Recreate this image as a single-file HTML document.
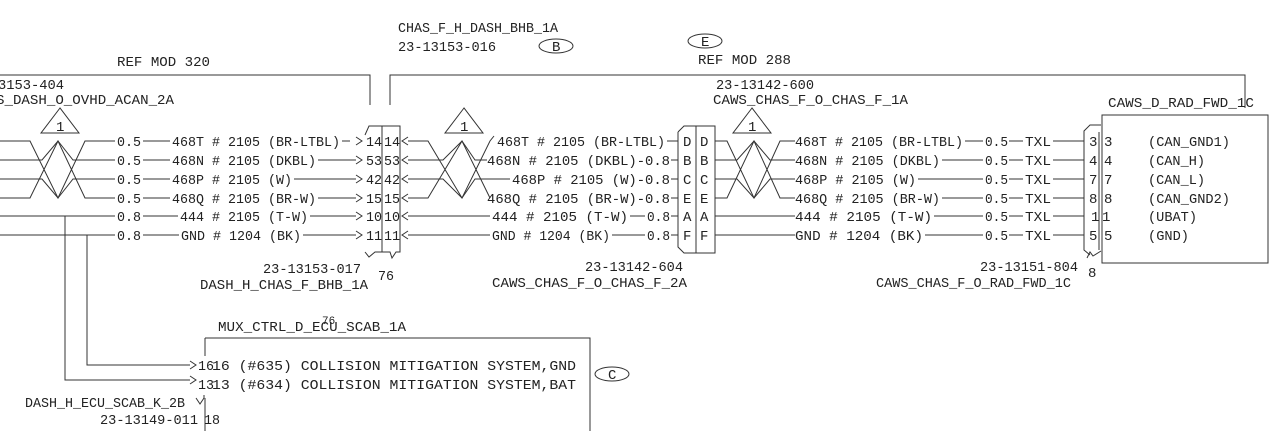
<!DOCTYPE html>
<html><head><meta charset="utf-8"><style>
html,body{margin:0;padding:0;background:#fff;width:1280px;height:431px;overflow:hidden}
svg text{font-family:"Liberation Mono",monospace;font-size:14px;fill:#222;stroke:none}
</style></head><body>
<svg width="1280" height="431" viewBox="0 0 1280 431" xmlns="http://www.w3.org/2000/svg" stroke="#333" stroke-width="1" fill="none">
<!-- top labels -->
<text x="398" y="32" textLength="160" lengthAdjust="spacingAndGlyphs">CHAS_F_H_DASH_BHB_1A</text>
<text x="398" y="51" textLength="98" lengthAdjust="spacingAndGlyphs">23-13153-016</text>
<ellipse cx="556" cy="46" rx="17" ry="7"/><text x="552" y="51">B</text>
<ellipse cx="705" cy="41" rx="17" ry="7"/><text x="701" y="46">E</text>
<text x="117" y="66" textLength="93" lengthAdjust="spacingAndGlyphs">REF MOD 320</text>
<text x="698" y="64" textLength="93" lengthAdjust="spacingAndGlyphs">REF MOD 288</text>
<polyline points="0,75 370,75 370,105"/>
<polyline points="390,105 390,75 1245,75 1245,108"/>
<text x="-2" y="89" textLength="66" lengthAdjust="spacingAndGlyphs">3153-404</text>
<text x="-4" y="104" textLength="178" lengthAdjust="spacingAndGlyphs">S_DASH_O_OVHD_ACAN_2A</text>
<text x="716" y="89" textLength="98" lengthAdjust="spacingAndGlyphs">23-13142-600</text>
<text x="713" y="104" textLength="195" lengthAdjust="spacingAndGlyphs">CAWS_CHAS_F_O_CHAS_F_1A</text>
<text x="1108" y="107" textLength="146" lengthAdjust="spacingAndGlyphs">CAWS_D_RAD_FWD_1C</text>
<!-- triangles -->
<polygon points="60,108 41,133 79,133"/><text x="56" y="131">1</text>
<polygon points="464,108 445,133 483,133"/><text x="460" y="131">1</text>
<polygon points="752,108 733,133 771,133"/><text x="748" y="131">1</text>
<!-- left twisted pairs -->
<polyline points="0,141 30,141 58,198 85,141 115,141"/>
<polyline points="0,160 42,160 58,141 73,160 115,160"/>
<polyline points="0,179 42,179 58,198 73,179 115,179"/>
<polyline points="0,198 30,198 58,141 85,198 115,198"/>
<line x1="0" y1="216" x2="115" y2="216"/><line x1="0" y1="235" x2="115" y2="235"/>
<!-- left rows -->
<g>
<text x="117" y="146" textLength="24" lengthAdjust="spacingAndGlyphs">0.5</text>
<text x="117" y="165" textLength="24" lengthAdjust="spacingAndGlyphs">0.5</text>
<text x="117" y="184" textLength="24" lengthAdjust="spacingAndGlyphs">0.5</text>
<text x="117" y="203" textLength="24" lengthAdjust="spacingAndGlyphs">0.5</text>
<text x="117" y="221" textLength="24" lengthAdjust="spacingAndGlyphs">0.8</text>
<text x="117" y="240" textLength="24" lengthAdjust="spacingAndGlyphs">0.8</text>
<line x1="143" y1="141" x2="170" y2="141"/><line x1="143" y1="160" x2="170" y2="160"/>
<line x1="143" y1="179" x2="170" y2="179"/><line x1="143" y1="198" x2="170" y2="198"/>
<line x1="143" y1="216" x2="178" y2="216"/><line x1="143" y1="235" x2="179" y2="235"/>
<text x="172" y="146" textLength="168" lengthAdjust="spacingAndGlyphs">468T # 2105 (BR-LTBL)</text>
<text x="172" y="165" textLength="144" lengthAdjust="spacingAndGlyphs">468N # 2105 (DKBL)</text>
<text x="172" y="184" textLength="120" lengthAdjust="spacingAndGlyphs">468P # 2105 (W)</text>
<text x="172" y="203" textLength="144" lengthAdjust="spacingAndGlyphs">468Q # 2105 (BR-W)</text>
<text x="180" y="221" textLength="128" lengthAdjust="spacingAndGlyphs">444 # 2105 (T-W)</text>
<text x="181" y="240" textLength="120" lengthAdjust="spacingAndGlyphs">GND # 1204 (BK)</text>
<line x1="342" y1="141" x2="350" y2="141"/>
<line x1="318" y1="160" x2="356" y2="160"/><line x1="294" y1="179" x2="356" y2="179"/>
<line x1="318" y1="198" x2="356" y2="198"/><line x1="310" y1="216" x2="356" y2="216"/>
<line x1="303" y1="235" x2="356" y2="235"/>
</g>
<g>
<polyline points="356,137 362,141 356,145"/><polyline points="356,156 362,160 356,164"/>
<polyline points="356,175 362,179 356,183"/><polyline points="356,194 362,198 356,202"/>
<polyline points="356,212 362,216 356,220"/><polyline points="356,231 362,235 356,239"/>
<polyline points="408,137 402,141 408,145"/><polyline points="408,156 402,160 408,164"/>
<polyline points="408,175 402,179 408,183"/><polyline points="408,194 402,198 408,202"/>
<polyline points="408,212 402,216 408,220"/><polyline points="408,231 402,235 408,239"/>
</g>
<text x="366" y="146" textLength="16" lengthAdjust="spacingAndGlyphs">14</text><text x="384" y="146" textLength="16" lengthAdjust="spacingAndGlyphs">14</text>
<text x="366" y="165" textLength="16" lengthAdjust="spacingAndGlyphs">53</text><text x="384" y="165" textLength="16" lengthAdjust="spacingAndGlyphs">53</text>
<text x="366" y="184" textLength="16" lengthAdjust="spacingAndGlyphs">42</text><text x="384" y="184" textLength="16" lengthAdjust="spacingAndGlyphs">42</text>
<text x="366" y="203" textLength="16" lengthAdjust="spacingAndGlyphs">15</text><text x="384" y="203" textLength="16" lengthAdjust="spacingAndGlyphs">15</text>
<text x="366" y="221" textLength="16" lengthAdjust="spacingAndGlyphs">10</text><text x="384" y="221" textLength="16" lengthAdjust="spacingAndGlyphs">10</text>
<text x="366" y="240" textLength="16" lengthAdjust="spacingAndGlyphs">11</text><text x="384" y="240" textLength="16" lengthAdjust="spacingAndGlyphs">11</text>
<polyline points="365,135 369,126 400,126 400,252 396,252 392,258 390,252 382,252"/>
<line x1="382" y1="126" x2="382" y2="252"/>
<polyline points="365,252 369,257 375,252 382,252"/>
<text x="263" y="273" textLength="98" lengthAdjust="spacingAndGlyphs">23-13153-017</text>
<text x="378" y="280" textLength="16" lengthAdjust="spacingAndGlyphs">76</text>
<text x="200" y="289" textLength="168" lengthAdjust="spacingAndGlyphs">DASH_H_CHAS_F_BHB_1A</text>
<!-- middle twist -->
<polyline points="408,141 428,141 462,198 490,141 494,136"/>
<polyline points="408,160 443,160 462,141 475,160 487,160"/>
<polyline points="408,179 443,179 462,198 475,179 510,179"/>
<polyline points="408,198 428,198 462,141 490,198"/>
<line x1="408" y1="216" x2="490" y2="216"/><line x1="408" y1="235" x2="490" y2="235"/>
<text x="497" y="146" textLength="168" lengthAdjust="spacingAndGlyphs">468T # 2105 (BR-LTBL)</text>
<text x="487" y="165" textLength="183" lengthAdjust="spacingAndGlyphs">468N # 2105 (DKBL)-0.8</text>
<text x="512" y="184" textLength="158" lengthAdjust="spacingAndGlyphs">468P # 2105 (W)-0.8</text>
<text x="487" y="203" textLength="183" lengthAdjust="spacingAndGlyphs">468Q # 2105 (BR-W)-0.8</text>
<text x="492" y="221" textLength="136" lengthAdjust="spacingAndGlyphs">444 # 2105 (T-W)</text>
<text x="492" y="240" textLength="118" lengthAdjust="spacingAndGlyphs">GND # 1204 (BK)</text>
<line x1="630" y1="216" x2="645" y2="216"/><line x1="612" y1="235" x2="645" y2="235"/>
<text x="647" y="221" textLength="23" lengthAdjust="spacingAndGlyphs">0.8</text>
<text x="647" y="240" textLength="23" lengthAdjust="spacingAndGlyphs">0.8</text>
<g>
<line x1="667" y1="141" x2="678" y2="141"/><line x1="671" y1="160" x2="678" y2="160"/>
<line x1="671" y1="179" x2="678" y2="179"/><line x1="671" y1="198" x2="678" y2="198"/>
<line x1="671" y1="216" x2="678" y2="216"/><line x1="671" y1="235" x2="678" y2="235"/>
</g>
<g>
<text x="683" y="146">D</text><text x="700" y="146">D</text>
<text x="683" y="165">B</text><text x="700" y="165">B</text>
<text x="683" y="184">C</text><text x="700" y="184">C</text>
<text x="683" y="203">E</text><text x="700" y="203">E</text>
<text x="683" y="221">A</text><text x="700" y="221">A</text>
<text x="683" y="240">F</text><text x="700" y="240">F</text>
</g>
<polyline points="678,132 684,126 715,126 715,253 684,253 678,247 678,132"/>
<line x1="696" y1="126" x2="696" y2="253"/>
<text x="585" y="271" textLength="98" lengthAdjust="spacingAndGlyphs">23-13142-604</text>
<text x="492" y="287" textLength="195" lengthAdjust="spacingAndGlyphs">CAWS_CHAS_F_O_CHAS_F_2A</text>
<!-- right twist -->
<polyline points="715,141 727,141 754,198 780,141 795,141"/>
<polyline points="715,160 737,160 754,141 770,160 795,160"/>
<polyline points="715,179 737,179 754,198 770,179 795,179"/>
<polyline points="715,198 727,198 754,141 780,198 795,198"/>
<line x1="715" y1="216" x2="795" y2="216"/><line x1="715" y1="235" x2="795" y2="235"/>
<text x="795" y="146" textLength="168" lengthAdjust="spacingAndGlyphs">468T # 2105 (BR-LTBL)</text>
<text x="795" y="165" textLength="145" lengthAdjust="spacingAndGlyphs">468N # 2105 (DKBL)</text>
<text x="795" y="184" textLength="121" lengthAdjust="spacingAndGlyphs">468P # 2105 (W)</text>
<text x="795" y="203" textLength="145" lengthAdjust="spacingAndGlyphs">468Q # 2105 (BR-W)</text>
<text x="795" y="221" textLength="137" lengthAdjust="spacingAndGlyphs">444 # 2105 (T-W)</text>
<text x="795" y="240" textLength="128" lengthAdjust="spacingAndGlyphs">GND # 1204 (BK)</text>
<g>
<line x1="965" y1="141" x2="983" y2="141"/><line x1="942" y1="160" x2="983" y2="160"/>
<line x1="918" y1="179" x2="983" y2="179"/><line x1="942" y1="198" x2="983" y2="198"/>
<line x1="934" y1="216" x2="983" y2="216"/><line x1="925" y1="235" x2="983" y2="235"/>
<line x1="1009" y1="141" x2="1023" y2="141"/><line x1="1009" y1="160" x2="1023" y2="160"/>
<line x1="1009" y1="179" x2="1023" y2="179"/><line x1="1009" y1="198" x2="1023" y2="198"/>
<line x1="1009" y1="216" x2="1023" y2="216"/><line x1="1009" y1="235" x2="1023" y2="235"/>
<line x1="1053" y1="141" x2="1084" y2="141"/><line x1="1053" y1="160" x2="1084" y2="160"/>
<line x1="1053" y1="179" x2="1084" y2="179"/><line x1="1053" y1="198" x2="1084" y2="198"/>
<line x1="1053" y1="216" x2="1084" y2="216"/><line x1="1053" y1="235" x2="1084" y2="235"/>
</g>
<g>
<text x="985" y="146" textLength="23" lengthAdjust="spacingAndGlyphs">0.5</text><text x="1025" y="146" textLength="26" lengthAdjust="spacingAndGlyphs">TXL</text>
<text x="985" y="165" textLength="23" lengthAdjust="spacingAndGlyphs">0.5</text><text x="1025" y="165" textLength="26" lengthAdjust="spacingAndGlyphs">TXL</text>
<text x="985" y="184" textLength="23" lengthAdjust="spacingAndGlyphs">0.5</text><text x="1025" y="184" textLength="26" lengthAdjust="spacingAndGlyphs">TXL</text>
<text x="985" y="203" textLength="23" lengthAdjust="spacingAndGlyphs">0.5</text><text x="1025" y="203" textLength="26" lengthAdjust="spacingAndGlyphs">TXL</text>
<text x="985" y="221" textLength="23" lengthAdjust="spacingAndGlyphs">0.5</text><text x="1025" y="221" textLength="26" lengthAdjust="spacingAndGlyphs">TXL</text>
<text x="985" y="240" textLength="23" lengthAdjust="spacingAndGlyphs">0.5</text><text x="1025" y="240" textLength="26" lengthAdjust="spacingAndGlyphs">TXL</text>
<text x="1089" y="146">3</text><text x="1104" y="146">3</text>
<text x="1089" y="165">4</text><text x="1104" y="165">4</text>
<text x="1089" y="184">7</text><text x="1104" y="184">7</text>
<text x="1089" y="203">8</text><text x="1104" y="203">8</text>
<text x="1091" y="221">1</text><text x="1102" y="221">1</text>
<text x="1089" y="240">5</text><text x="1104" y="240">5</text>
<text x="1148" y="146" textLength="82" lengthAdjust="spacingAndGlyphs">(CAN_GND1)</text>
<text x="1148" y="165" textLength="57" lengthAdjust="spacingAndGlyphs">(CAN_H)</text>
<text x="1148" y="184" textLength="57" lengthAdjust="spacingAndGlyphs">(CAN_L)</text>
<text x="1148" y="203" textLength="82" lengthAdjust="spacingAndGlyphs">(CAN_GND2)</text>
<text x="1148" y="221" textLength="49" lengthAdjust="spacingAndGlyphs">(UBAT)</text>
<text x="1148" y="240" textLength="41" lengthAdjust="spacingAndGlyphs">(GND)</text>
</g>
<polyline points="1101,125 1090,125 1084,131 1084,250 1090,255"/>
<polyline points="1087,258 1090,252 1093,256 1101,251"/>
<line x1="1099" y1="132" x2="1099" y2="250"/>
<rect x="1102" y="115" width="166" height="148"/>
<text x="980" y="271" textLength="98" lengthAdjust="spacingAndGlyphs">23-13151-804</text>
<text x="1088" y="277">8</text>
<text x="876" y="287" textLength="195" lengthAdjust="spacingAndGlyphs">CAWS_CHAS_F_O_RAD_FWD_1C</text>
<!-- bottom -->
<polyline points="65,216 65,380 190,380"/>
<polyline points="87,235 87,365 190,365"/>
<polyline points="190,361 196,365 190,369"/><polyline points="190,376 196,380 190,384"/>
<text x="218" y="331" textLength="188" lengthAdjust="spacingAndGlyphs">MUX_CTRL_D_ECU_SCAB_1A</text>
<text x="322" y="324" style="font-size:11px">76</text>
<polyline points="205,338 590,338 590,431"/>
<line x1="205" y1="338" x2="205" y2="356"/>
<line x1="205" y1="398" x2="205" y2="431"/>
<text x="198" y="370" textLength="16" lengthAdjust="spacingAndGlyphs">16</text>
<text x="198" y="389" textLength="16" lengthAdjust="spacingAndGlyphs">13</text>
<text x="212" y="370" textLength="364" lengthAdjust="spacingAndGlyphs">16 (#635)  COLLISION MITIGATION SYSTEM,GND</text>
<text x="212" y="389" textLength="364" lengthAdjust="spacingAndGlyphs">13 (#634)  COLLISION MITIGATION SYSTEM,BAT</text>
<ellipse cx="612" cy="374" rx="17" ry="7"/><text x="608" y="379">C</text>
<text x="25" y="407" textLength="160" lengthAdjust="spacingAndGlyphs">DASH_H_ECU_SCAB_K_2B</text>
<text x="100" y="424" textLength="98" lengthAdjust="spacingAndGlyphs">23-13149-011</text>
<text x="204" y="424" textLength="16" lengthAdjust="spacingAndGlyphs">18</text>
<polyline points="196,398 200,404 204,398 204,395"/>
</svg>
</body></html>
